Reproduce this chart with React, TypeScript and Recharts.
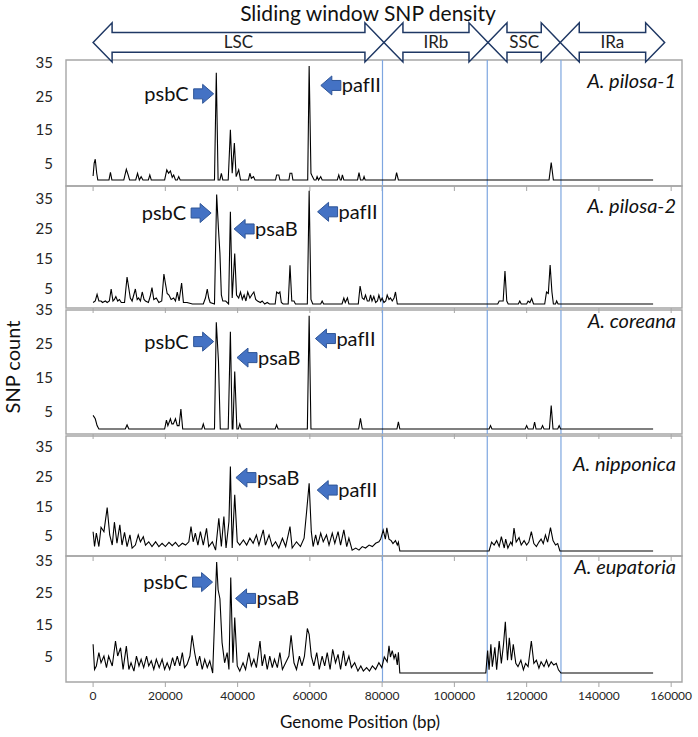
import React from "react";
import {
  LineChart,
  Line,
  XAxis,
  YAxis,
  ReferenceLine,
  ReferenceArea,
  ReferenceDot,
} from "recharts";

// genome positions in kb, counts = SNPs per window
const xTicks = [0, 20, 40, 60, 80, 100, 120, 140, 160];
const yTicks = [5, 15, 25, 35];
const boundaries = [80.1, 109.1, 129.5];
const regionNames = ["LSC", "IRb", "SSC", "IRa"];
const regionEdges = [0, 80.5, 109.3, 129.3, 158.2];

const X_MIN = -7.5;
const X_MAX = 163;

const pilosa1: [number, number][] = [
  [0, 1.2], [0.3, 5], [0.6, 6.2], [1, 2], [1.3, 0], [4.4, 0], [4.8, 2.3], [5.2, 0], [8.5, 0], [9.2, 3.2],
  [9.7, 1.5], [10.1, 0], [11.8, 0], [12.3, 2], [12.8, 0], [13.3, 1], [13.8, 0], [15.3, 0], [15.7, 1.5], [16.1, 0],
  [19.8, 0], [20.4, 3], [20.9, 2], [21.4, 2.7], [21.9, 0.8], [22.3, 1.5], [22.8, 0], [23.3, 0], [23.7, 1], [24.1, 0],
  [33.6, 0], [34.1, 32], [34.6, 0], [35.1, 0], [35.5, 2], [35.9, 0], [37.4, 0], [38, 15], [38.5, 2], [39.1, 11],
  [39.6, 1], [40.3, 3], [40.8, 0], [43, 0], [43.4, 2], [43.8, 0.5], [44.4, 1], [44.8, 0], [50.5, 0], [50.8, 1.5],
  [51.4, 1.5], [51.7, 0], [54.2, 0], [54.5, 2], [55, 2], [55.3, 0], [59.4, 0], [59.8, 34], [60.3, 2], [60.7, 1],
  [61.2, 0], [61.7, 0], [62, 1], [62.4, 0], [63, 1], [63.4, 0], [67.6, 0], [68, 1.5], [68.4, 0], [68.7, 0],
  [69, 1.5], [69.4, 0], [73.2, 0], [73.6, 2.2], [74, 0], [74.7, 0], [75, 1], [75.3, 0], [83.6, 0], [84, 2.2],
  [84.5, 0], [126.2, 0], [126.8, 5.2], [127.4, 0], [155, 0],
];

const pilosa2: [number, number][] = [
  [0, 0.5], [0.6, 1], [1.1, 3.2], [1.6, 1], [2.2, 1], [2.6, 0.5], [3.4, 1], [3.9, 0.5], [4.5, 1], [5, 5],
  [5.5, 1], [5.9, 1.5], [6.3, 2.5], [6.8, 1], [7.3, 1.5], [7.8, 0.5], [8.7, 0.5], [9.4, 9], [10.3, 2], [10.8, 1],
  [11.7, 5], [12.2, 1.5], [12.6, 2], [13.1, 1], [13.6, 4], [14.1, 1.5], [14.5, 1], [15.3, 0.5], [15.8, 2.5], [16.3, 5.5],
  [16.8, 1.5], [17.5, 2], [18.2, 0.5], [19, 1], [19.6, 10], [20, 7], [20.5, 3.5], [21, 3], [21.6, 1.5], [22.3, 2],
  [22.8, 1], [23.3, 4], [23.8, 1], [24.5, 7], [25, 0.5], [26, 0.5], [27.5, 0], [30.5, 0], [31.1, 2], [31.6, 5],
  [32, 2], [32.4, 0.5], [33.6, 0], [34.2, 36.5], [34.7, 25], [35.1, 17], [35.5, 3], [35.9, 1], [36.7, 1], [37.5, 0],
  [38, 30.7], [38.5, 2], [39.2, 16.8], [39.7, 3], [40.3, 2], [40.8, 4], [41.3, 1.5], [41.8, 3], [42.3, 1], [42.8, 4],
  [43.4, 2], [43.9, 3], [44.5, 4], [45, 1.5], [45.5, 1], [46.3, 0.5], [46.8, 1], [47.5, 0], [48.2, 0.5], [48.8, 0],
  [50.4, 0], [50.8, 4], [51.3, 3.5], [51.7, 4], [52.1, 0.5], [52.6, 0], [54, 0], [54.5, 12.9], [55, 1], [55.6, 1],
  [56, 0], [59.3, 0], [59.8, 37.7], [60.3, 1.5], [60.8, 0], [63, 0], [63.4, 1], [63.8, 0], [68.9, 0], [69.4, 2],
  [69.8, 0.5], [70.4, 2], [70.8, 0], [73.4, 0], [73.9, 6], [74.5, 2], [75, 1.5], [75.4, 3], [75.9, 1], [76.4, 1],
  [76.8, 3], [77.2, 1], [77.7, 2.5], [78.2, 0.5], [78.7, 1], [79.1, 3], [79.6, 1], [80, 2], [80.5, 0.5], [81, 1],
  [81.4, 3], [81.9, 1.5], [82.3, 2], [82.8, 1], [83.3, 2], [83.7, 4], [84.2, 0], [112, 0], [112.4, 1], [113.5, 1],
  [114, 11], [114.5, 1], [114.9, 0], [117.7, 0], [118.1, 1], [118.5, 0], [120, 0], [120.4, 1], [120.9, 0.5], [121.4, 1.8],
  [121.9, 0], [125, 0], [125.5, 4], [126, 3.5], [126.5, 13], [127, 4], [127.4, 0], [128, 0], [128.3, 1], [128.7, 0],
  [155, 0],
];

const coreana: [number, number][] = [
  [0, 4], [0.6, 3], [1.1, 1], [1.6, 0], [8.9, 0], [9.4, 1.2], [9.9, 0], [19.8, 0], [20.3, 2.6], [20.7, 1],
  [21.4, 3], [21.8, 1.5], [22.2, 1.5], [22.8, 3], [23.3, 1], [23.8, 1], [24.3, 5.9], [24.8, 0], [30.1, 0], [30.5, 1.5],
  [30.9, 0], [33.6, 0], [34.1, 31.4], [34.7, 20], [35.2, 0], [37.4, 0], [38, 28.6], [38.5, 0], [38.7, 0], [39.2, 16.9],
  [39.8, 0], [40.2, 0], [40.6, 1.5], [41, 0], [50.4, 0], [50.8, 1.2], [51.2, 0], [59.3, 0], [59.8, 33.3], [60.3, 0],
  [73.5, 0], [74, 3.1], [74.5, 0], [84.1, 0], [84.5, 2.1], [84.9, 0], [109.6, 0], [110, 1], [110.4, 0], [119.6, 0],
  [120, 1], [120.4, 0], [121.8, 0], [122.2, 2], [122.6, 0], [124, 0], [124.4, 1], [124.8, 0], [126.3, 0], [126.8, 6.9],
  [127.3, 0], [128.6, 0], [129, 1], [129.4, 0], [155, 0],
];

const nipponica: [number, number][] = [
  [0, 6.5], [0.4, 1.5], [0.9, 6], [1.6, 1.5], [2.2, 8], [3, 6.5], [3.9, 14.6], [4.6, 5.4], [5.3, 2], [5.9, 9.7],
  [6.6, 2.6], [7.4, 8.8], [8, 2], [8.7, 6.3], [9.4, 1.5], [10.2, 5.4], [10.8, 1], [11.7, 2], [12.5, 5.4], [13.1, 3.1],
  [13.9, 4.8], [14.5, 2], [15.4, 3.1], [16.3, 1.5], [17.3, 3.1], [18.2, 1.5], [19.1, 2.6], [20, 1.5], [21, 2.9], [21.9, 1.8],
  [22.8, 2.9], [23.7, 1.5], [24.7, 2.6], [25.6, 2], [26.5, 3.1], [27.1, 8.2], [27.7, 3.1], [28.3, 6], [29, 2], [29.7, 6.5],
  [30.5, 2], [31.4, 7.6], [32, 1.5], [33, 3.1], [33.9, 0.3], [34.8, 11], [35.5, 1.5], [36.2, 11.6], [36.8, 1], [37.6, 9.9],
  [38, 28.4], [38.5, 1], [39.2, 18.9], [39.9, 3.1], [40.6, 2], [41.6, 3.7], [42.5, 2], [43.4, 4.3], [44.3, 2.6], [45.2, 5.4],
  [45.9, 2], [47.1, 7.1], [47.7, 2], [48.7, 5.4], [49.6, 1.5], [50.5, 3.1], [51.4, 1], [52.4, 4.3], [53.3, 1.5], [54.5, 8.2],
  [55.1, 1], [56.3, 3.1], [57.4, 1.5], [58.4, 4.3], [59.1, 13.3], [59.8, 22.8], [60.4, 6.5], [60.9, 1.5], [61.6, 5.4], [62.2, 2],
  [63, 6], [63.7, 3.1], [64.6, 5.4], [65.3, 2], [66.2, 6], [66.9, 2.6], [67.8, 6.5], [68.5, 2], [69.4, 7.1], [70.2, 1.5],
  [70.8, 4.3], [71.7, 0.3], [72.7, 1], [73.6, 0.3], [74.5, 1.5], [75.4, 1], [76.4, 2], [77.3, 1.5], [78.2, 2.6], [79.1, 3.1],
  [79.6, 4], [80.3, 7], [80.9, 4], [81.3, 7.8], [81.9, 4], [82.5, 3.5], [83, 2.5], [83.7, 3.5], [84.2, 2], [84.5, 3],
  [84.9, 0], [109.6, 0], [110.3, 3], [111, 2], [111.7, 3.5], [112.4, 1.5], [113, 4.8], [113.8, 1], [114.2, 4], [114.8, 1],
  [115.6, 3], [116, 2], [116.5, 7.7], [117.1, 3], [117.9, 4.5], [118.5, 2], [119.3, 3.5], [120, 2], [120.6, 3], [121.3, 6.5],
  [122, 2.5], [122.7, 1.5], [123.4, 3], [124, 4], [124.6, 2.5], [125.2, 5.4], [125.8, 3], [126.6, 7.9], [127.3, 3.5], [128, 2],
  [128.6, 2.5], [129.2, 0], [155, 0],
];

const eupatoria: [number, number][] = [
  [0, 9], [0.4, 1.1], [0.9, 2.2], [1.6, 6.4], [2.2, 3.2], [3, 5.3], [3.7, 1.7], [4.3, 5.3], [5.3, 2.2], [6.2, 10],
  [6.8, 5.3], [7.6, 7.9], [8.3, 1.1], [9.2, 8.4], [9.9, 1.1], [10.5, 3.2], [11.3, 0.6], [12, 5.3], [12.7, 2.2], [13.3, 4.3],
  [14, 1.7], [14.8, 5.3], [15.4, 2.2], [16.1, 3.8], [16.8, 1.1], [17.5, 4.3], [18.3, 1.7], [19.1, 4.3], [19.8, 1.1], [20.5, 3.2],
  [21.2, 1.1], [22, 4.8], [22.6, 2.2], [23.3, 5.3], [24, 2.2], [24.7, 6.4], [25.3, 1.7], [26, 2.7], [26.8, 5.3], [27.4, 11.8],
  [28.1, 6.4], [28.8, 2.2], [29.5, 5.3], [30.2, 1.1], [30.9, 4.3], [31.6, 1.7], [32.3, 3.8], [33.1, 0], [34.2, 34.7], [34.6, 26],
  [35.1, 23.2], [35.7, 9.5], [36.4, 3.2], [37.1, 6.4], [37.6, 1.1], [38.1, 29.8], [38.7, 3.2], [39.2, 17.3], [39.9, 2.2], [40.6, 0.6],
  [41.5, 3.2], [42.2, 1.1], [43.1, 6.4], [43.8, 2.2], [44.5, 4.3], [45.2, 1.7], [46.2, 10], [46.8, 2.2], [47.5, 5.8], [48.2, 1.1],
  [48.9, 5.3], [49.6, 1.7], [50.2, 4.3], [51, 1.7], [51.7, 6.4], [52.4, 1.1], [53.3, 3.2], [54.2, 5.3], [54.8, 11.8], [55.6, 3.2],
  [56.3, 1.1], [57.1, 5.3], [57.8, 2.2], [58.5, 5.3], [59.3, 13.9], [59.8, 12.1], [60.4, 5.3], [61.1, 2.2], [61.9, 6.4], [62.6, 1.1],
  [63.4, 5.3], [64.1, 2.2], [64.8, 6.4], [65.6, 1.1], [66.3, 7.4], [67.1, 3.2], [67.8, 5.8], [68.5, 1.1], [69.3, 6.9], [69.9, 2.2],
  [70.8, 5.3], [71.5, 1.7], [72.4, 3.2], [73.3, 0.6], [74.1, 2.2], [74.8, 0.6], [75.7, 1.7], [76.5, 0.6], [77.3, 2.2], [78.2, 1.1],
  [79.1, 3.2], [79.9, 1.7], [80.6, 5], [81.4, 3.5], [81.9, 8.5], [82.3, 5], [82.8, 7], [83.3, 4.5], [83.7, 6], [84.2, 2.5],
  [84.5, 6.5], [84.9, 0], [108.7, 0], [109.2, 7], [109.6, 1], [110.1, 9], [110.5, 2], [111.2, 8], [111.7, 1], [112.4, 10],
  [113, 3], [113.6, 9], [114.1, 16], [114.7, 4], [115.2, 11], [115.8, 4], [116.3, 9], [117, 3], [117.6, 2], [118.4, 4],
  [119.1, 1], [119.7, 3], [120.4, 2], [121.3, 10], [122, 3], [122.7, 4], [123.4, 1.5], [124, 3.5], [124.8, 2], [125.5, 4],
  [126.1, 2], [126.8, 3.5], [127.5, 2.5], [128.2, 3], [128.8, 1], [129.5, 0], [155, 0],
];

type Gene = { gene: string; kb: number; count: number; dir: "right" | "left" };

const pilosa1Genes: Gene[] = [
  { gene: "psbC", kb: 30.6, count: 25.7, dir: "right" },
  { gene: "pafII", kb: 65.8, count: 28.2, dir: "left" },
];
const pilosa2Genes: Gene[] = [
  { gene: "psbC", kb: 29.9, count: 30.3, dir: "right" },
  { gene: "psaB", kb: 41.8, count: 25, dir: "left" },
  { gene: "pafII", kb: 64.9, count: 30.7, dir: "left" },
];
const coreanaGenes: Gene[] = [
  { gene: "psbC", kb: 30.6, count: 25.7, dir: "right" },
  { gene: "psaB", kb: 42.6, count: 21, dir: "left" },
  { gene: "pafII", kb: 64.3, count: 26.6, dir: "left" },
];
const nipponicaGenes: Gene[] = [
  { gene: "psaB", kb: 42.3, count: 24.7, dir: "left" },
  { gene: "pafII", kb: 64.8, count: 20.5, dir: "left" },
];
const eupatoriaGenes: Gene[] = [
  { gene: "psbC", kb: 30.3, count: 28.4, dir: "right" },
  { gene: "psaB", kb: 42.2, count: 23.3, dir: "left" },
];

const panels = [
  { name: "A. pilosa-1", series: pilosa1, genes: pilosa1Genes, top: 60, bottom: 186, lo: -1.8, hi: 35.8, labelY: 80 },
  { name: "A. pilosa-2", series: pilosa2, genes: pilosa2Genes, top: 186, bottom: 308, lo: -1.33, hi: 39.3, labelY: 205 },
  { name: "A. coreana", series: coreana, genes: coreanaGenes, top: 310, bottom: 434, lo: -1.47, hi: 35, labelY: 320 },
  { name: "A. nipponica", series: nipponica, genes: nipponicaGenes, top: 436, bottom: 556, lo: -1.68, hi: 38.7, labelY: 463 },
  { name: "A. eupatoria", series: eupatoria, genes: eupatoriaGenes, top: 556, bottom: 682, lo: -2.81, hi: 36.56, labelY: 566 },
];

const FRAME = "#a6a6a6";
const BLUE_LINE = "#7ea6e0";

function GeneArrow(props: any) {
  const { cx, cy, gene, dir } = props;
  const s = dir === "right" ? 1 : -1;
  const pts = [
    [-10, -5], [-1, -5], [-1, -9.5], [10, 0], [-1, 9.5], [-1, 5], [-10, 5],
  ]
    .map(([px, py]) => `${cx + s * px},${cy + py}`)
    .join(" ");
  return (
    <g>
      <polygon points={pts} fill="#4472c4" stroke="#2f5597" strokeWidth={1} />
      <text
        x={dir === "right" ? cx - 15 : cx + 11}
        y={cy + 7}
        textAnchor={dir === "right" ? "end" : "start"}
        fontSize={20}
        fill="#111"
      >
        {gene}
      </text>
    </g>
  );
}

function RegionArrow(props: any) {
  const { x, y, width: w, height: h, name } = props;
  const hl = 19;
  const inset = h * 0.25;
  const mid = y + h / 2;
  const pts = [
    [x, mid], [x + hl, y], [x + hl, y + inset], [x + w - hl, y + inset], [x + w - hl, y],
    [x + w, mid], [x + w - hl, y + h], [x + w - hl, y + h - inset], [x + hl, y + h - inset], [x + hl, y + h],
  ]
    .map((p) => p.join(","))
    .join(" ");
  return (
    <g>
      <polygon points={pts} fill="#fff" stroke="#1f3864" strokeWidth={1.5} />
      <text x={x + w / 2} y={mid + 6} textAnchor="middle" fontSize={17} fill="#222">
        {name}
      </text>
    </g>
  );
}

const NoTick = () => <g />;

function Panel({ p, first, last }: { p: (typeof panels)[number]; first: boolean; last: boolean }) {
  const mt = first ? p.top : 12;
  const xh = last ? 40 : 10;
  const h = p.bottom - p.top;
  const rows = p.series.map(([kb, count]) => ({ x: kb, y: count }));
  return (
    <div style={{ position: "absolute", left: 0, top: p.top - mt }}>
      <LineChart
        width={698}
        height={h + mt + xh}
        data={rows}
        margin={{ top: mt, right: 16, bottom: 0, left: 26 }}
      >
        <XAxis
          type="number"
          dataKey="x"
          domain={[X_MIN, X_MAX]}
          allowDataOverflow
          ticks={xTicks}
          height={xh}
          axisLine={false}
          tickLine={{ stroke: FRAME }}
          tickSize={5}
          tickMargin={4}
          tickFormatter={(v: number) => String(v * 1000)}
          tick={last ? { fontSize: 12, fill: "#262626" } : NoTick}
          interval={0}
        />
        <YAxis
          type="number"
          domain={[p.lo, p.hi]}
          allowDataOverflow
          ticks={yTicks}
          width={40}
          axisLine={false}
          tickLine={false}
          tickSize={0}
          tickMargin={13}
          tick={{ fontSize: 15, fill: "#262626" }}
          interval={0}
        />
        <ReferenceArea x1={X_MIN} x2={X_MAX} y1={p.lo} y2={p.hi} fill="none" stroke={FRAME} strokeWidth={1.4} />
        {boundaries.map((b) => (
          <ReferenceLine key={b} x={b} stroke={BLUE_LINE} strokeWidth={1.2} />
        ))}
        {first &&
          regionNames.map((name, i) => (
            <ReferenceArea
              key={name}
              x1={regionEdges[i]}
              x2={regionEdges[i + 1]}
              y1={35.2}
              y2={46.9}
              ifOverflow="visible"
              shape={(sp: any) => <RegionArrow {...sp} name={name} />}
            />
          ))}
        <Line
          type="linear"
          dataKey="y"
          stroke="#000"
          strokeWidth={1.1}
          dot={false}
          activeDot={false}
          isAnimationActive={false}
        />
        {p.genes.map((g) => (
          <ReferenceDot
            key={g.gene}
            x={g.kb}
            y={g.count}
            shape={(sp: any) => <GeneArrow cx={sp.cx} cy={sp.cy} gene={g.gene} dir={g.dir} />}
          />
        ))}
      </LineChart>
    </div>
  );
}

export default function App() {
  return (
    <div
      style={{
        position: "absolute",
        left: 0,
        top: 0,
        width: 698,
        height: 737,
        background: "#fff",
        fontFamily: "Lato, 'Open Sans', sans-serif",
        color: "#111",
        overflow: "hidden",
      }}
    >
      {panels.map((p, i) => (
        <Panel key={p.name} p={p} first={i === 0} last={i === panels.length - 1} />
      ))}
      <div
        style={{
          position: "absolute",
          left: 0,
          top: 0,
          width: 736,
          textAlign: "center",
          fontSize: 21,
          lineHeight: "26px",
        }}
      >
        Sliding window SNP density
      </div>
      {panels.map((p) => (
        <div
          key={p.name}
          style={{
            position: "absolute",
            right: 698 - 676,
            top: p.labelY - 13,
            fontSize: 20,
            fontStyle: "italic",
            lineHeight: "26px",
            whiteSpace: "nowrap",
          }}
        >
          {p.name}
        </div>
      ))}
      <div
        style={{
          position: "absolute",
          left: 12 - 60,
          top: 367 - 13,
          width: 120,
          textAlign: "center",
          fontSize: 20,
          lineHeight: "26px",
          transform: "rotate(-90deg)",
        }}
      >
        SNP count
      </div>
      <div
        style={{
          position: "absolute",
          left: 360 - 120,
          top: 722 - 11,
          width: 240,
          textAlign: "center",
          fontSize: 17,
          lineHeight: "22px",
        }}
      >
        Genome Position (bp)
      </div>
    </div>
  );
}
